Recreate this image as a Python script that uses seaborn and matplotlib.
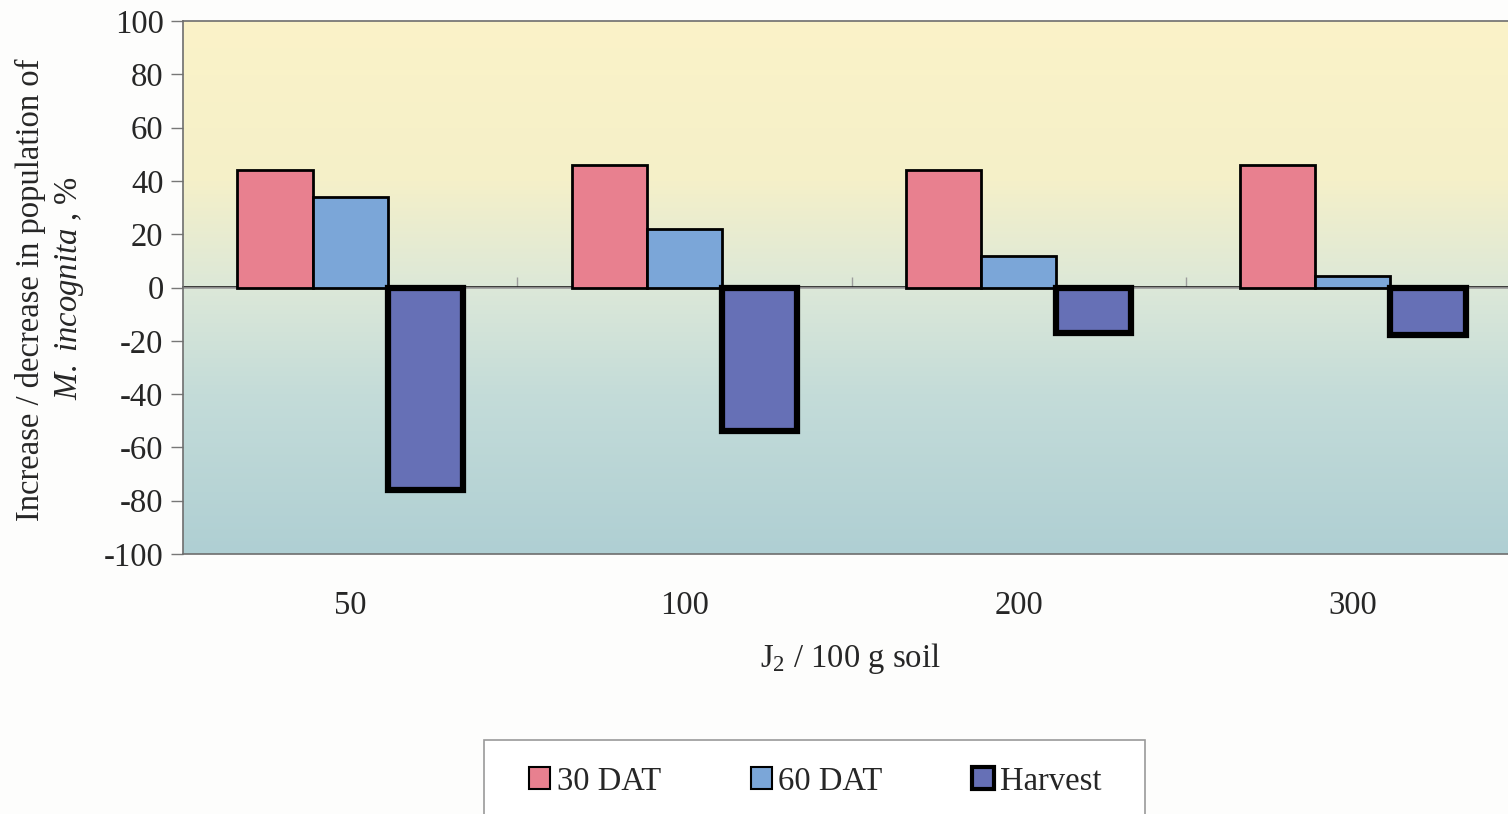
import numpy as np
import pandas as pd
import matplotlib
matplotlib.use("Agg")
import matplotlib.pyplot as plt
from matplotlib.colors import LinearSegmentedColormap
from matplotlib.patches import Patch, Rectangle
import seaborn as sns

# Inoculum levels and population change (%) at each sampling time
doses = ["50", "100", "200", "300"]
series = ["30 DAT", "60 DAT", "Harvest"]
dat30 = [44, 46, 44, 46]
dat60 = [34, 22, 12, 4.5]
harvest = [-76, -54, -17, -18]
yticks = [100, 80, 60, 40, 20, 0, -20, -40, -60, -80, -100]

colors = {"30 DAT": "#E8808F", "60 DAT": "#7BA6D8", "Harvest": "#6670B6"}

df = pd.DataFrame({
    "dose": doses * 3,
    "series": [s for s in series for _ in doses],
    "value": dat30 + dat60 + harvest,
})

sns.set_theme(style="white")
plt.rcParams["font.family"] = ["Liberation Serif", "DejaVu Serif"]
plt.rcParams["mathtext.fontset"] = "custom"
plt.rcParams["mathtext.rm"] = "Liberation Serif"
plt.rcParams["mathtext.it"] = "Liberation Serif:italic"

FS = 23.5

fig = plt.figure(figsize=(15.08, 8.14), dpi=100)
fig.patch.set_facecolor("#FDFDFC")
ax = fig.add_axes([183 / 1508, 1 - 554 / 814, (1520 - 183) / 1508, (554 - 21) / 814])

# Vertical yellow-to-teal wash behind the plot
cmap = LinearSegmentedColormap.from_list(
    "wash",
    [(0.0, "#FBF3C8"), (0.3, "#F5F0C9"), (0.5, "#DCE8D8"),
     (0.7, "#C4DCD9"), (1.0, "#AFCFD3")],
)
grad = np.linspace(0, 1, 256).reshape(-1, 1)
ax.imshow(grad, cmap=cmap, aspect="auto", extent=[-0.5, 3.5, -100, 100],
          origin="upper", zorder=0)

# Zero line sits under the bars
ax.axhline(0, color="#9C9C9C", lw=1.2, zorder=1)

sns.barplot(data=df, x="dose", y="value", hue="series", order=doses,
            hue_order=series, palette=colors, width=0.675, gap=0,
            edgecolor="black", linewidth=2, saturation=1, legend=False,
            ax=ax, zorder=3)

for cont, name in zip(ax.containers, series):
    for bar in cont:
        bar.set_linewidth(4.5 if name == "Harvest" else 2)
        bar.set_zorder(3)

ax.set_xlim(-0.5, 3.5)
ax.set_ylim(-100, 100)
ax.set_yticks(yticks)
ax.set_yticklabels([str(v) for v in yticks])
ax.set_xlabel("")
ax.set_ylabel("")
ax.tick_params(axis="y", direction="out", length=9, width=1, color="#777777",
               labelsize=FS, pad=5, left=True)
ax.tick_params(axis="x", length=0, labelsize=FS, pad=26)

for side in ["left", "top", "bottom"]:
    ax.spines[side].set_color("#6E6E6E")
    ax.spines[side].set_linewidth(1.2)
ax.spines["right"].set_visible(False)

# Category ticks between groups on the zero line
zero_ax = ax.secondary_xaxis(0.5)
zero_ax.set_xticks([0.5, 1.5, 2.5])
zero_ax.set_xticklabels([])
zero_ax.tick_params(direction="out", length=7, width=1, color="#9C9C9C")
zero_ax.spines["bottom"].set_visible(False)

fig.text(30 / 1508, 1 - 290 / 814, "Increase / decrease in population of",
         rotation=90, ha="center", va="center", fontsize=FS)
fig.text(70 / 1508, 1 - 288 / 814, r"$\mathit{M.\ incognita}$ , %",
         rotation=90, ha="center", va="center", fontsize=FS)
fig.text(850 / 1508, 1 - 658 / 814, r"J$_2$ / 100 g soil",
         ha="center", va="center", fontsize=FS)

# Legend box running off the lower edge
fig.patches.append(Rectangle((484 / 1508, -0.05), (1145 - 484) / 1508,
                             0.05 + 1 - 740 / 814, transform=fig.transFigure,
                             facecolor="#FFFFFF", edgecolor="#9A9A9A",
                             linewidth=1.2, zorder=0))

handles = [Patch(facecolor=colors[s], edgecolor="black",
                 linewidth=3 if s == "Harvest" else 1.5) for s in series]
leg = fig.legend(handles, series, loc="upper left",
                 bbox_to_anchor=(529 / 1508, 1 - 766 / 814), ncol=3,
                 fontsize=FS, frameon=False,
                 handlelength=0.65, handleheight=0.65, handletextpad=0.2,
                 columnspacing=2.75, borderpad=0, borderaxespad=0)

fig.savefig("out.png", dpi=100)
